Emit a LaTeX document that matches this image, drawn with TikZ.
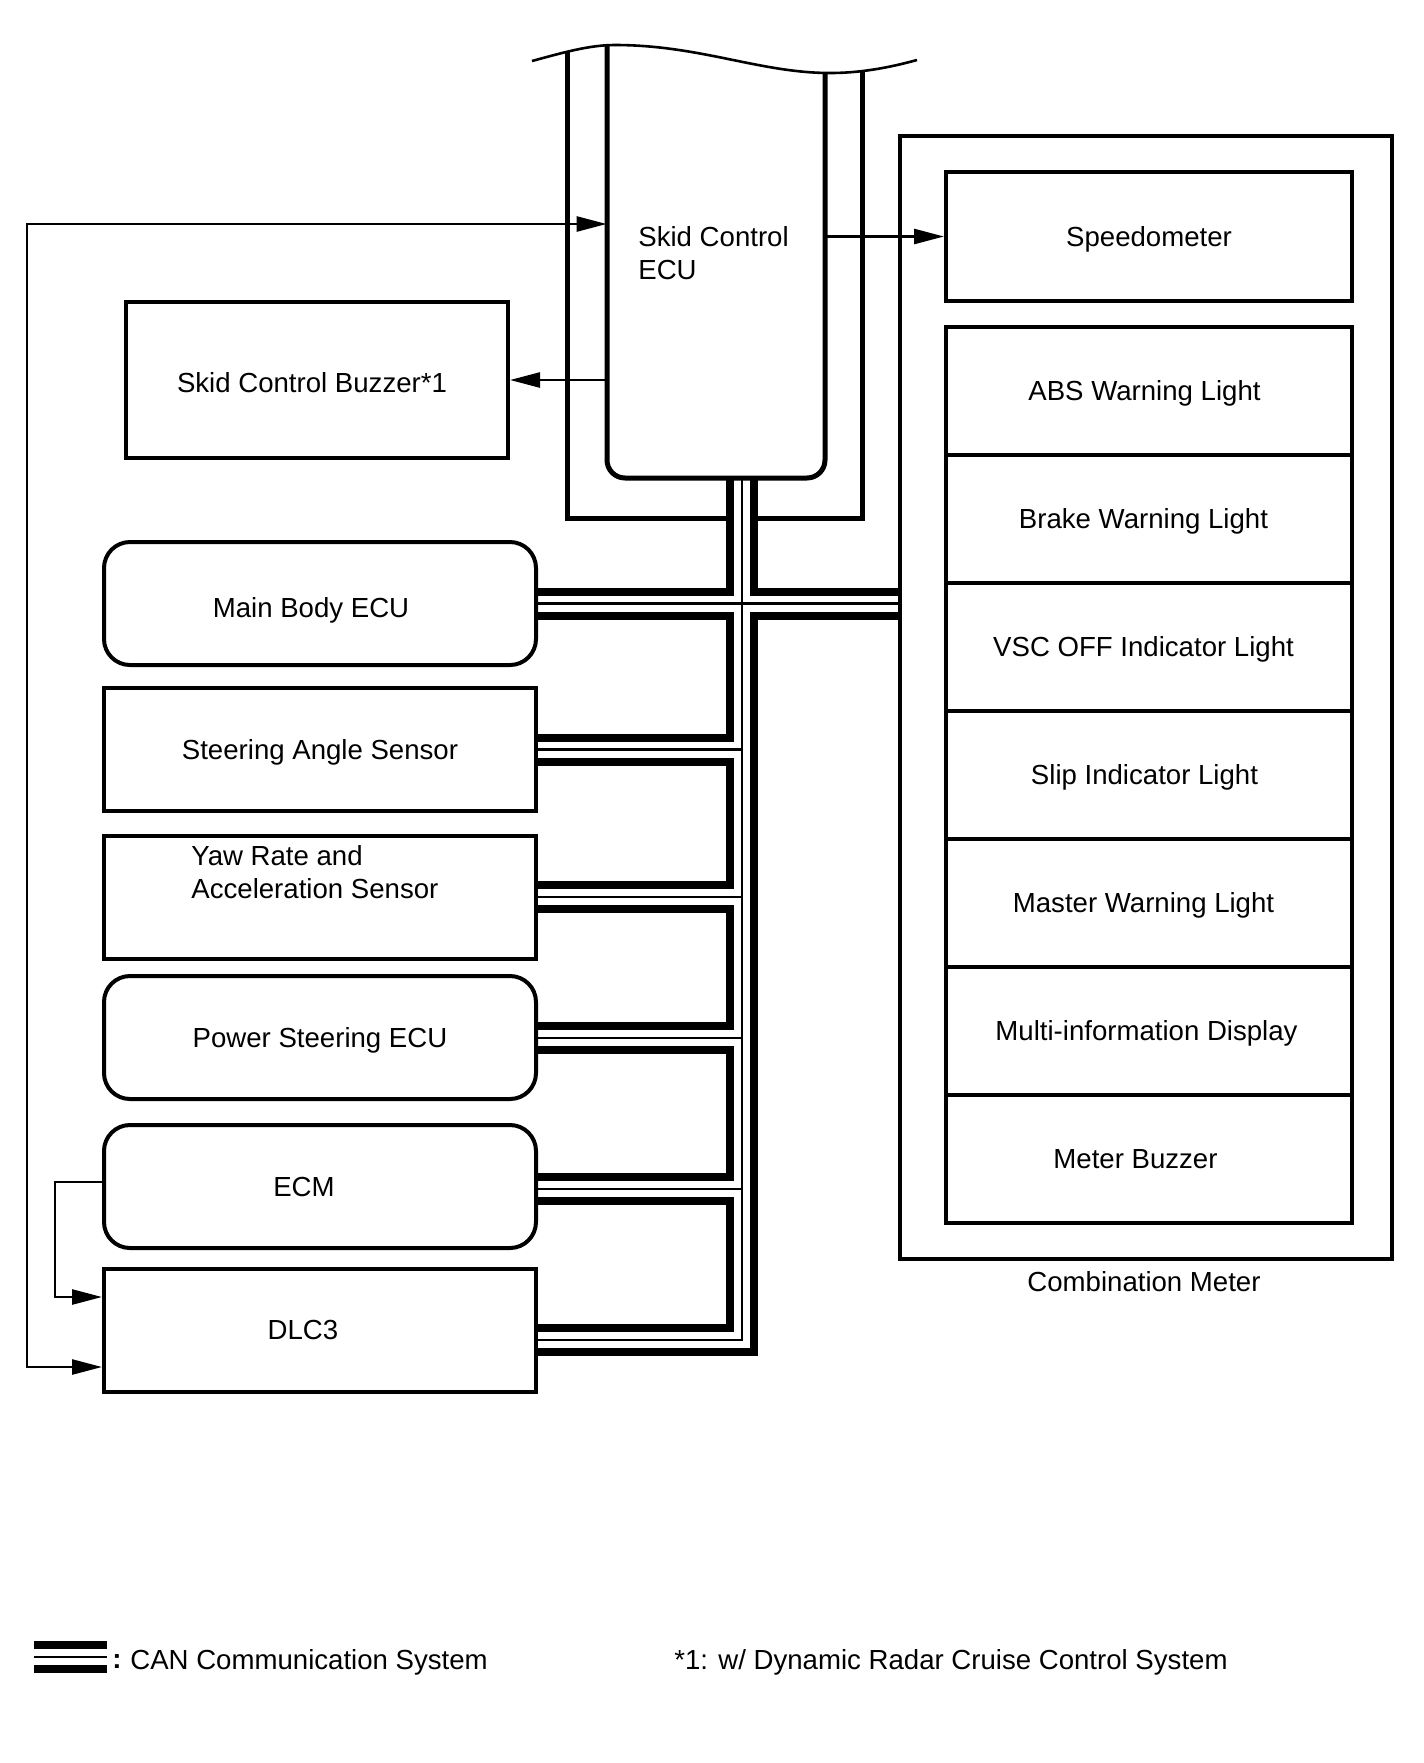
\documentclass[tikz,border=0pt]{standalone}
\usepackage{fontspec}
\setmainfont{Liberation Sans}
\usetikzlibrary{arrows.meta}
\pgfdeclarelayer{bg}
\pgfsetlayers{bg,main}
\begin{document}
\begin{tikzpicture}[x=0.5pt,y=-0.5pt,
  every node/.style={font=\fontsize{13.8pt}{16.3pt}\selectfont, inner sep=0pt},
  ctext/.style={text height=9.9pt, text depth=0pt},
  lbox/.style={draw, line width=2pt, fill=white, minimum width=216pt, minimum height=61.5pt, ctext},
  rlbox/.style={lbox, rounded corners=13pt},
  mrow/.style={draw, line width=2pt, fill=white, minimum width=203pt, minimum height=64pt, ctext},
  arr/.style={line width=1.3pt, -{Triangle[length=15pt,width=7.5pt]}},
  biarr/.style={line width=1.3pt, {Triangle[length=15pt,width=7.5pt]}-{Triangle[length=15pt,width=7.5pt]}},
  eculine/.style={line width=2.5pt},
  busblack/.style={line width=16pt, line cap=butt, line join=miter},
  buswhite/.style={white, line width=8pt, line cap=butt, line join=miter},
  busthin/.style={line width=1.4pt, line cap=butt, line join=miter}
]
\useasboundingbox (0,0) rectangle (1424,1763);

% ---- left column boxes
\node[rlbox, text height=13.5pt] (mb)  at (320,603.5) {Main Body ECU\hspace*{9pt}};
\node[lbox]  (sas) at (320,749.5) {Steering Angle Sensor};
\node[lbox]  (yaw) at (320,897) {};
\node[align=left, anchor=west] (yawtxt) at (191,872) {Yaw Rate and\\Acceleration Sensor};
\node[rlbox] (pse) at (320,1037.5) {Power Steering ECU};
\node[rlbox] (ecm) at (320,1186.5) {ECM\hspace*{16pt}};
\node[lbox]  (dlc) at (320,1330) {DLC3\hspace*{17pt}};
\node[draw, line width=2pt, minimum width=191pt, minimum height=78pt, text height=12.5pt, text depth=0pt] (buz) at (317,380) {Skid Control Buzzer*1\hspace*{5pt}};

% ---- skid control ECU
\node[minimum width=109pt, minimum height=216.5pt] (ecu) at (716,261.5) {};
\node[align=left, anchor=west] (ecutxt) at (638,253) {Skid Control\\ECU};
\draw[eculine, rounded corners=9pt] (607,45) -- (607,478) -- (825,478) -- (825,73);

% ---- combination meter
\node[draw, line width=2pt, minimum width=246pt, minimum height=561.5pt] (cm) at (1145.5,697.5) {};
\node[ctext] (cmtxt) at (1144,1282) {Combination Meter};
\node[mrow, minimum height=64.5pt] (spd) at (1149,236.5) {Speedometer};
\node[mrow] (r1) at (1148.5,391)  {ABS Warning Light\hspace*{4pt}};
\node[mrow] (r2) at (1148.5,519)  {Brake Warning Light\hspace*{5pt}};
\node[mrow] (r3) at (1148.5,647)  {VSC OFF Indicator Light\hspace*{5pt}};
\node[mrow] (r4) at (1148.5,775)  {Slip Indicator Light\hspace*{4pt}};
\node[mrow] (r5) at (1148.5,903)  {Master Warning Light\hspace*{5pt}};
\node[mrow] (r6) at (1148.5,1031) {Multi-information Display\hspace*{2pt}};
\node[mrow] (r7) at (1148.5,1159) {Meter Buzzer\hspace*{13pt}};

% ---- housing, wave and CAN bus (background)
\coordinate (tr) at (742,480);
\coordinate (bD) at (742,1340);
\coordinate (lg1) at (34,1657);
\coordinate (lg2) at (107,1657);
\newcommand\buspaths[1]{%
  \draw[#1] (tr) -- (bD) -- (bD -| dlc.east);
  \draw[#1] (mb.east) -- (mb.east -| cm.west);
  \draw[#1] (sas.east) -- (sas.east -| tr);
  \draw[#1] (yaw.east) -- (yaw.east -| tr);
  \draw[#1] ([yshift=-0.25pt]pse.east) -- ([yshift=-0.25pt]pse.east -| tr);
  \draw[#1] ([yshift=-1.25pt]ecm.east) -- ([yshift=-1.25pt]ecm.east -| tr);
  \draw[#1] (lg1) -- (lg2);
}
\begin{pgfonlayer}{bg}
  \draw[eculine] (567,52) -- (567,518) -- (862,518) -- (862,71);
  \buspaths{busblack}
  \buspaths{buswhite}
  \buspaths{busthin}
\end{pgfonlayer}
\draw[line width=1.3pt] (532,61) .. controls (565,52) and (590,45) .. (615,45)
  .. controls (700,45) and (760,73) .. (830,73) .. controls (865,73) and (895,66) .. (917,60);

% ---- signal arrows
\coordinate (L1) at (27,224);
\coordinate (L2) at (27,1367);
\coordinate (E1) at (55,1182);
\coordinate (E2) at (55,1297);
\draw[biarr] (L1 -| ecu.west) -- (L1) -- (L2) -- (L2 -| dlc.west);
\draw[arr] (E1 -| ecm.west) -- (E1) -- (E2) -- (E2 -| dlc.west);
\draw[arr] (ecu.west |- buz.east) -- (buz.east);
\draw[arr] (ecu.east |- spd.west) -- (spd.west);

% ---- legend
\node[ctext] (colon) at (117,1659) {\textbf{:}};
\node[anchor=west, ctext] (lgtxt) at (130,1660) {CAN Communication System};
\node[ctext] (note) at (951,1660) {*1: w/ Dynamic Radar Cruise Control System};
\end{tikzpicture}
\end{document}
